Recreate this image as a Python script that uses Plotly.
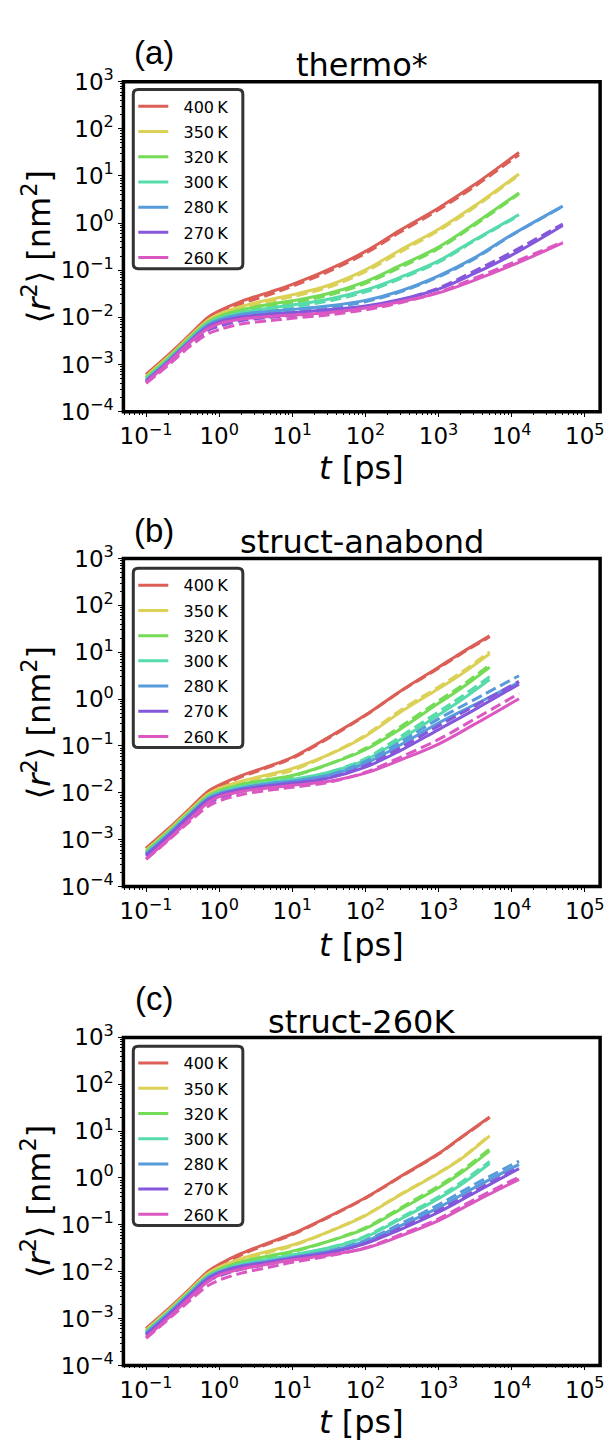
import plotly.graph_objects as go

W, H = 613, 1447

TEMPS = ["400", "350", "320", "300", "280", "270", "260"]
COLORS = ["#db5f57", "#dbd157", "#74db57", "#57dbab", "#579bdb", "#8457db", "#db57c1"]

# ---------------- time grids (ps) ----------------
T_A = [0.1, 0.2, 0.4, 0.7, 1, 2, 5, 10, 30, 100, 300, 1000, 3000, 12600]
T_A_LONG = [0.1, 0.2, 0.4, 0.7, 1, 2, 5, 10, 30, 100, 300, 1000, 3000, 10000, 50000]
T_BC = [0.1, 0.2, 0.4, 0.7, 1, 2, 5, 10, 30, 100, 300, 1000, 2000, 5000]
T_BC_LONG = [0.1, 0.2, 0.4, 0.7, 1, 2, 5, 10, 30, 100, 300, 1000, 3000, 12600]

# ---------------- (a) thermo*  <r^2> in nm^2 (solid, _D = dashed) ----------------
A_400 = [6.17e-4, 1.585e-3, 4.35e-3, 1.00e-2, 1.38e-2, 2.19e-2, 3.47e-2, 5.01e-2, 0.100, 0.251, 0.708, 2.09, 6.31, 31.6]
A_400_D = [6.03e-4, 1.51e-3, 4.07e-3, 9.13e-3, 1.25e-2, 1.95e-2, 3.09e-2, 4.57e-2, 9.12e-2, 0.229, 0.646, 1.91, 5.75, 28.2]
A_350 = [5.62e-4, 1.445e-3, 3.98e-3, 8.73e-3, 1.17e-2, 1.70e-2, 2.40e-2, 3.02e-2, 4.68e-2, 0.102, 0.269, 0.741, 2.24, 11.0]
A_350_D = [5.37e-4, 1.38e-3, 3.71e-3, 7.96e-3, 1.07e-2, 1.55e-2, 2.19e-2, 2.75e-2, 4.27e-2, 9.33e-2, 0.245, 0.692, 2.09, 10.5]
A_320 = [5.25e-4, 1.35e-3, 3.71e-3, 7.96e-3, 1.04e-2, 1.445e-2, 1.905e-2, 2.24e-2, 3.16e-2, 5.75e-2, 0.126, 0.309, 0.933, 4.37]
A_320_D = [5.01e-4, 1.288e-3, 3.47e-3, 7.26e-3, 9.52e-3, 1.318e-2, 1.74e-2, 2.04e-2, 2.88e-2, 5.25e-2, 0.115, 0.288, 0.871, 4.17]
A_300 = [4.90e-4, 1.259e-3, 3.47e-3, 7.43e-3, 9.52e-3, 1.259e-2, 1.585e-2, 1.82e-2, 2.40e-2, 3.80e-2, 7.08e-2, 0.158, 0.427, 1.51]
A_300_D = [4.68e-4, 1.20e-3, 3.23e-3, 6.77e-3, 8.68e-3, 1.148e-2, 1.445e-2, 1.66e-2, 2.19e-2, 3.47e-2, 6.61e-2, 0.148, 0.407, 1.45]
A_280 = [4.68e-4, 1.20e-3, 3.31e-3, 6.93e-3, 8.88e-3, 1.148e-2, 1.35e-2, 1.48e-2, 1.74e-2, 2.29e-2, 3.63e-2, 7.59e-2, 0.178, 0.562, 2.29]
A_280_D = [4.47e-4, 1.122e-3, 2.94e-3, 5.90e-3, 7.56e-3, 1.0e-2, 1.20e-2, 1.32e-2, 1.585e-2, 2.14e-2, 3.47e-2, 7.24e-2, 0.170, 0.550, 2.24]
A_270 = [4.37e-4, 1.122e-3, 3.08e-3, 6.33e-3, 8.10e-3, 1.023e-2, 1.175e-2, 1.259e-2, 1.445e-2, 1.74e-2, 2.40e-2, 3.98e-2, 8.32e-2, 0.209, 0.891]
A_270_D = [4.17e-4, 1.023e-3, 2.69e-3, 5.26e-3, 6.44e-3, 8.51e-3, 1.0e-2, 1.096e-2, 1.288e-2, 1.62e-2, 2.34e-2, 4.17e-2, 9.33e-2, 0.240, 0.955]
A_260 = [4.17e-4, 1.072e-3, 2.94e-3, 5.76e-3, 7.38e-3, 9.12e-3, 1.047e-2, 1.122e-2, 1.259e-2, 1.585e-2, 2.14e-2, 3.31e-2, 6.03e-2, 0.126, 0.380]
A_260_D = [3.98e-4, 9.55e-4, 2.45e-3, 4.47e-3, 5.48e-3, 7.24e-3, 8.51e-3, 9.55e-3, 1.122e-2, 1.445e-2, 2.04e-2, 3.39e-2, 6.61e-2, 0.141, 0.398]

# ---------------- (b) struct-anabond ----------------
B_400 = [6.61e-4, 1.70e-3, 4.68e-3, 1.07e-2, 1.47e-2, 2.34e-2, 3.80e-2, 5.75e-2, 0.148, 0.457, 1.479, 4.79, 9.55, 22.4]
B_400_D = [6.46e-4, 1.62e-3, 4.35e-3, 9.79e-3, 1.34e-2, 2.19e-2, 3.63e-2, 5.50e-2, 0.141, 0.447, 1.445, 4.57, 9.12, 21.4]
B_350 = [6.03e-4, 1.55e-3, 4.26e-3, 9.35e-3, 1.25e-2, 1.78e-2, 2.51e-2, 3.31e-2, 6.31e-2, 0.162, 0.525, 1.66, 3.31, 9.33]
B_350_D = [5.75e-4, 1.479e-3, 3.98e-3, 8.52e-3, 1.14e-2, 1.62e-2, 2.34e-2, 3.02e-2, 6.31e-2, 0.170, 0.575, 1.82, 3.63, 10.2]
B_320 = [5.62e-4, 1.445e-3, 3.98e-3, 8.52e-3, 1.12e-2, 1.514e-2, 1.95e-2, 2.34e-2, 3.98e-2, 8.32e-2, 0.229, 0.813, 1.66, 4.79]
B_320_D = [5.37e-4, 1.38e-3, 3.71e-3, 7.77e-3, 1.02e-2, 1.38e-2, 1.82e-2, 2.24e-2, 3.98e-2, 8.91e-2, 0.257, 0.912, 1.86, 5.37]
B_300 = [5.25e-4, 1.349e-3, 3.71e-3, 7.96e-3, 1.02e-2, 1.349e-2, 1.70e-2, 1.95e-2, 2.69e-2, 5.01e-2, 0.138, 0.457, 0.933, 2.63]
B_300_D = [5.01e-4, 1.288e-3, 3.47e-3, 7.26e-3, 9.30e-3, 1.23e-2, 1.585e-2, 1.86e-2, 2.69e-2, 5.37e-2, 0.158, 0.537, 1.096, 3.02]
B_280 = [5.01e-4, 1.288e-3, 3.54e-3, 7.60e-3, 9.74e-3, 1.259e-2, 1.585e-2, 1.78e-2, 2.34e-2, 4.27e-2, 0.105, 0.309, 0.741, 2.29]
B_280_D = [4.79e-4, 1.20e-3, 3.23e-3, 6.77e-3, 8.68e-3, 1.148e-2, 1.479e-2, 1.70e-2, 2.34e-2, 4.68e-2, 0.120, 0.380, 0.955, 3.16]
B_270 = [4.68e-4, 1.20e-3, 3.31e-3, 7.10e-3, 9.09e-3, 1.175e-2, 1.445e-2, 1.62e-2, 2.04e-2, 3.55e-2, 7.94e-2, 0.224, 0.575, 2.09]
B_270_D = [4.47e-4, 1.122e-3, 2.94e-3, 6.04e-3, 7.74e-3, 1.072e-2, 1.35e-2, 1.55e-2, 2.04e-2, 3.80e-2, 9.12e-2, 0.269, 0.692, 2.40]
B_260 = [3.89e-4, 1.0e-3, 2.75e-3, 6.18e-3, 8.29e-3, 1.072e-2, 1.288e-2, 1.445e-2, 1.74e-2, 2.63e-2, 5.01e-2, 0.110, 0.282, 1.02]
B_260_D = [3.80e-4, 9.55e-4, 2.50e-3, 5.14e-3, 6.74e-3, 9.12e-3, 1.148e-2, 1.318e-2, 1.66e-2, 2.75e-2, 5.75e-2, 0.138, 0.363, 1.32]

# ---------------- (c) struct-260K ----------------
C_400 = [6.17e-4, 1.585e-3, 4.35e-3, 1.02e-2, 1.44e-2, 2.45e-2, 4.27e-2, 6.46e-2, 0.145, 0.380, 1.072, 3.31, 7.24, 20.0]
C_400_D = [6.03e-4, 1.51e-3, 4.07e-3, 9.35e-3, 1.31e-2, 2.29e-2, 4.07e-2, 6.17e-2, 0.141, 0.372, 1.047, 3.24, 7.08, 19.5]
C_350 = [5.75e-4, 1.479e-3, 4.07e-3, 9.13e-3, 1.25e-2, 1.905e-2, 2.82e-2, 3.72e-2, 6.92e-2, 0.158, 0.437, 1.259, 2.51, 7.94]
C_350_D = [5.50e-4, 1.413e-3, 3.80e-3, 8.33e-3, 1.14e-2, 1.738e-2, 2.63e-2, 3.55e-2, 6.92e-2, 0.162, 0.447, 1.288, 2.57, 8.13]
C_320 = [5.37e-4, 1.38e-3, 3.80e-3, 8.33e-3, 1.12e-2, 1.62e-2, 2.19e-2, 2.75e-2, 4.37e-2, 8.32e-2, 0.214, 0.617, 1.259, 3.80]
C_320_D = [5.13e-4, 1.318e-3, 3.54e-3, 7.60e-3, 1.02e-2, 1.479e-2, 2.04e-2, 2.63e-2, 4.37e-2, 8.71e-2, 0.229, 0.676, 1.38, 4.17]
C_300 = [5.13e-4, 1.318e-3, 3.63e-3, 7.96e-3, 1.04e-2, 1.445e-2, 1.862e-2, 2.29e-2, 3.16e-2, 5.50e-2, 0.132, 0.363, 0.708, 2.04]
C_300_D = [4.90e-4, 1.259e-3, 3.38e-3, 7.26e-3, 9.52e-3, 1.318e-2, 1.738e-2, 2.19e-2, 3.16e-2, 5.75e-2, 0.141, 0.398, 0.794, 2.24]
C_280 = [4.90e-4, 1.259e-3, 3.47e-3, 7.60e-3, 9.97e-3, 1.349e-2, 1.70e-2, 2.04e-2, 2.69e-2, 4.47e-2, 9.55e-2, 0.234, 0.603, 1.95]
C_280_D = [4.68e-4, 1.20e-3, 3.23e-3, 6.93e-3, 9.09e-3, 1.23e-2, 1.585e-2, 1.95e-2, 2.69e-2, 4.68e-2, 0.105, 0.269, 0.708, 2.29]
C_270 = [4.57e-4, 1.175e-3, 3.23e-3, 7.10e-3, 9.52e-3, 1.288e-2, 1.62e-2, 1.95e-2, 2.51e-2, 3.98e-2, 7.94e-2, 0.186, 0.468, 1.585]
C_270_D = [4.37e-4, 1.096e-3, 2.94e-3, 6.18e-3, 8.10e-3, 1.122e-2, 1.479e-2, 1.82e-2, 2.45e-2, 4.07e-2, 8.51e-2, 0.204, 0.513, 1.70]
C_260 = [3.98e-4, 1.023e-3, 2.81e-3, 6.18e-3, 8.49e-3, 1.148e-2, 1.479e-2, 1.78e-2, 2.24e-2, 3.16e-2, 5.75e-2, 0.123, 0.302, 0.933]
C_260_D = [3.80e-4, 9.55e-4, 2.45e-3, 5.03e-3, 6.59e-3, 9.33e-3, 1.259e-2, 1.585e-2, 2.14e-2, 3.24e-2, 6.17e-2, 0.135, 0.339, 1.047]

PANEL_LABELS = ["(a)", "(b)", "(c)"]
PANEL_TITLES = ["thermo*", "struct-anabond", "struct-260K"]

X_TICKS = [1e-1, 1e0, 1e1, 1e2, 1e3, 1e4, 1e5]
X_TICKTEXT = ["10<sup>\u22121</sup>", "10<sup>0</sup>", "10<sup>1</sup>", "10<sup>2</sup>",
              "10<sup>3</sup>", "10<sup>4</sup>", "10<sup>5</sup>"]
Y_TICKS = [1e-4, 1e-3, 1e-2, 1e-1, 1e0, 1e1, 1e2, 1e3]
Y_TICKTEXT = ["10<sup>\u22124</sup>", "10<sup>\u22123</sup>", "10<sup>\u22122</sup>", "10<sup>\u22121</sup>",
              "10<sup>0</sup>", "10<sup>1</sup>", "10<sup>2</sup>", "10<sup>3</sup>"]

SERIES = [
    [(T_A, A_400, A_400_D), (T_A, A_350, A_350_D), (T_A, A_320, A_320_D), (T_A, A_300, A_300_D),
     (T_A_LONG, A_280, A_280_D), (T_A_LONG, A_270, A_270_D), (T_A_LONG, A_260, A_260_D)],
    [(T_BC, B_400, B_400_D), (T_BC, B_350, B_350_D), (T_BC, B_320, B_320_D), (T_BC, B_300, B_300_D),
     (T_BC_LONG, B_280, B_280_D), (T_BC_LONG, B_270, B_270_D), (T_BC_LONG, B_260, B_260_D)],
    [(T_BC, C_400, C_400_D), (T_BC, C_350, C_350_D), (T_BC, C_320, C_320_D), (T_BC, C_300, C_300_D),
     (T_BC_LONG, C_280, C_280_D), (T_BC_LONG, C_270, C_270_D), (T_BC_LONG, C_260, C_260_D)],
]

# ---------------- layout geometry (pixels) ----------------
BOX_L, BOX_R = 121, 604
PANELS = [
    dict(top=66, bottom=403, label_y=36, title_y=49, xt_y=461, leg_top=74, leg_bot=257),
    dict(top=553, bottom=888, label_y=524, title_y=536, xt_y=948, leg_top=563, leg_bot=746),
    dict(top=1042, bottom=1377, label_y=1002, title_y=1026, xt_y=1435, leg_top=1051, leg_bot=1234),
]
LEG_L, LEG_R = 131, 242


def px(x):
    return x / W


def py(y):
    return 1 - y / H


FONT = "DejaVu Sans"
minor_x = [k * 10.0 ** e for e in range(-2, 6) for k in range(2, 10)]
minor_y = [k * 10.0 ** e for e in range(-5, 3) for k in range(2, 10)]

fig = go.Figure()
annotations = []
shapes = []
layout = {}

for i, p in enumerate(PANELS):
    n = "" if i == 0 else str(i + 1)
    xa, ya = "x" + n, "y" + n
    leg = "legend" + n
    for j, (t, solid, dashed) in enumerate(SERIES[i]):
        fig.add_trace(go.Scatter(
            x=t, y=solid, mode="lines", name="\u00a0\u00a0" + TEMPS[j] + "\u2009K",
            line=dict(color=COLORS[j], width=3, shape="spline", smoothing=1.0),
            xaxis=xa, yaxis=ya, legend=leg, legendgroup=f"{i}-{j}", showlegend=True,
        ))
        fig.add_trace(go.Scatter(
            x=t, y=dashed, mode="lines", name=TEMPS[j] + "\u2009K",
            line=dict(color=COLORS[j], width=3, dash="11px,5px", shape="spline", smoothing=1.0),
            xaxis=xa, yaxis=ya, legend=leg, legendgroup=f"{i}-{j}", showlegend=False,
        ))

    common = dict(
        type="log", showgrid=False, zeroline=False, showline=False,
        ticks="outside", ticklen=4, tickwidth=1.3, tickcolor="black",
        tickfont=dict(family=FONT, size=23, color="black"),
    )
    layout["xaxis" + n] = dict(
        common, domain=[px(BOX_L), px(BOX_R)], range=[-1.31, 5.21], anchor=ya,
        tickmode="array", tickvals=X_TICKS, ticktext=X_TICKTEXT,
        minor=dict(tickmode="array", tickvals=minor_x, ticks="outside", ticklen=2, tickwidth=1, tickcolor="black"),
    )
    layout["yaxis" + n] = dict(
        common, domain=[py(p["bottom"]), py(p["top"])], range=[-4, 3], anchor=xa,
        tickmode="array", tickvals=Y_TICKS, ticktext=Y_TICKTEXT,
        minor=dict(tickmode="array", tickvals=minor_y, ticks="outside", ticklen=2, tickwidth=1, tickcolor="black"),
    )
    layout[leg] = dict(
        x=px(LEG_L), y=py(p["leg_top"]), xanchor="left", yanchor="top",
        bgcolor="rgba(0,0,0,0)", borderwidth=0,
        font=dict(family=FONT, size=16, color="black"),
        tracegroupgap=1.4, itemwidth=30,
    )

    # plot frame
    shapes.append(dict(type="rect", xref=xa + " domain", yref=ya + " domain", x0=0, x1=1, y0=0, y1=1,
                       line=dict(color="black", width=3.5), layer="above"))
    # legend frame with rounded corners
    rx, ry = 5 / W, 5 / H
    x0, x1 = px(LEG_L), px(LEG_R)
    y0, y1 = py(p["leg_bot"]), py(p["leg_top"])
    path = (f"M{x0 + rx},{y1} L{x1 - rx},{y1} Q{x1},{y1} {x1},{y1 - ry} "
            f"L{x1},{y0 + ry} Q{x1},{y0} {x1 - rx},{y0} L{x0 + rx},{y0} "
            f"Q{x0},{y0} {x0},{y0 + ry} L{x0},{y1 - ry} Q{x0},{y1} {x0 + rx},{y1} Z")
    shapes.append(dict(type="path", xref="paper", yref="paper", path=path,
                       line=dict(color="#333333", width=3), fillcolor="rgba(255,255,255,0.8)", layer="above"))

    cx = px((BOX_L + BOX_R) / 2)
    annotations += [
        dict(text=PANEL_LABELS[i], x=px(152), y=py(p["label_y"]), xref="paper", yref="paper",
             showarrow=False, xanchor="center", yanchor="middle",
             font=dict(family="Liberation Sans", size=33, color="black")),
        dict(text=PANEL_TITLES[i], x=cx, y=py(p["title_y"]), xref="paper", yref="paper",
             showarrow=False, xanchor="center", yanchor="middle",
             font=dict(family=FONT, size=32, color="black")),
        dict(text="<i>t</i> [ps]", x=cx, y=py(p["xt_y"]), xref="paper", yref="paper",
             showarrow=False, xanchor="center", yanchor="middle",
             font=dict(family=FONT, size=32, color="black")),
        dict(text="\u27e8<i>r</i><sup>2</sup>\u27e9 [nm<sup>2</sup>]", x=px(33),
             y=py((p["top"] + p["bottom"]) / 2), xref="paper", yref="paper",
             showarrow=False, xanchor="center", yanchor="middle", textangle=-90,
             font=dict(family=FONT, size=32, color="black")),
    ]

fig.update_layout(
    width=W, height=H, margin=dict(l=0, r=0, t=0, b=0),
    paper_bgcolor="white", plot_bgcolor="white",
    annotations=annotations, shapes=shapes, showlegend=True,
    **layout,
)

fig.write_html("out.html")
